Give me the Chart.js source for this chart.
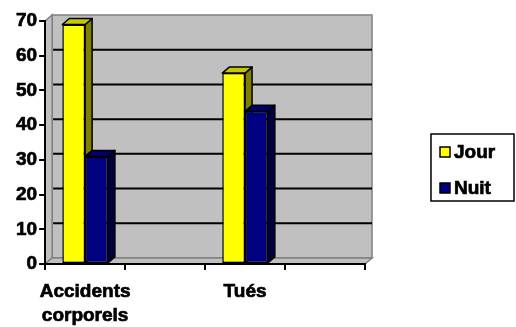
<!DOCTYPE html>
<html lang="fr">
<head>
    <meta charset="UTF-8">
    <title>Accidents jour / nuit</title>
    <script src="https://cdn.jsdelivr.net/npm/chart.js"></script>
    <style>
        body {
            margin: 0;
            background: #ffffff;
        }
        .wrap {
            width: 516px;
            height: 327px;
            position: relative;
        }
    </style>
</head>
<body>
    <div class="wrap">
        <canvas id="chart"></canvas>
    </div>

    <script>
        // data
        const categories = [['Accidents', 'corporels'], '', 'Tués', ''];
        const seriesNames = ['Jour', 'Nuit'];
        const jour = [69, null, 55, null];
        const nuit = [31, null, 44, null];
        const yTicks = [0, 10, 20, 30, 40, 50, 60, 70];

        // styles
        const FONT = '"Liberation Sans", Arial, sans-serif';
        const front = ['#ffff00', '#000080'];
        const side = ['#808000', '#000040'];
        const topFace = ['#c8c800', '#00006a'];
        const DX = 7, DY = 6;

        const threeD = {
            id: 'threeD',
            beforeDraw(chart) {
                const ctx = chart.ctx;
                const { left, right, top, bottom } = chart.chartArea;
                const ys = chart.scales.y;
                ctx.save();
                ctx.lineJoin = 'miter';
                // back wall
                ctx.fillStyle = '#c0c0c0';
                ctx.strokeStyle = '#808080';
                ctx.lineWidth = 1.5;
                ctx.fillRect(left + DX, top - DY, right - left, bottom - top);
                ctx.strokeRect(left + DX, top - DY, right - left, bottom - top);
                // left wall
                ctx.beginPath();
                ctx.moveTo(left, bottom);
                ctx.lineTo(left, top);
                ctx.lineTo(left + DX, top - DY);
                ctx.lineTo(left + DX, bottom - DY);
                ctx.closePath();
                ctx.fill();
                ctx.stroke();
                // floor
                ctx.beginPath();
                ctx.moveTo(left, bottom);
                ctx.lineTo(right, bottom);
                ctx.lineTo(right + DX, bottom - DY);
                ctx.lineTo(left + DX, bottom - DY);
                ctx.closePath();
                ctx.fill();
                ctx.stroke();
                // grid lines on the back wall
                ctx.strokeStyle = '#000000';
                ctx.lineWidth = 2;
                ys.ticks.forEach(t => {
                    if (t.value <= ys.min || t.value >= ys.max) return;
                    const py = ys.getPixelForValue(t.value) - DY;
                    ctx.beginPath();
                    ctx.moveTo(left + DX + 1, py);
                    ctx.lineTo(right + DX, py);
                    ctx.stroke();
                });
                ctx.restore();
            },
            beforeDatasetsDraw(chart) {
                const ctx = chart.ctx;
                ctx.save();
                ctx.strokeStyle = '#000000';
                ctx.lineWidth = 1.5;
                ctx.lineJoin = 'round';
                chart.data.datasets.forEach((ds, di) => {
                    const meta = chart.getDatasetMeta(di);
                    meta.data.forEach((el, i) => {
                        if (ds.data[i] == null) return;
                        const { x, y, base, width } = el.getProps(['x', 'y', 'base', 'width'], true);
                        const l = x - width / 2, r = x + width / 2;
                        // side face
                        ctx.fillStyle = side[di];
                        ctx.beginPath();
                        ctx.moveTo(r, y);
                        ctx.lineTo(r + DX, y - DY);
                        ctx.lineTo(r + DX, base - DY);
                        ctx.lineTo(r, base);
                        ctx.closePath();
                        ctx.fill();
                        ctx.stroke();
                        // top face
                        ctx.fillStyle = topFace[di];
                        ctx.beginPath();
                        ctx.moveTo(l, y);
                        ctx.lineTo(l + DX, y - DY);
                        ctx.lineTo(r + DX, y - DY);
                        ctx.lineTo(r, y);
                        ctx.closePath();
                        ctx.fill();
                        ctx.stroke();
                    });
                });
                ctx.restore();
            },
            afterDraw(chart) {
                // framed legend on the right
                const ctx = chart.ctx;
                ctx.save();
                ctx.strokeStyle = '#000000';
                ctx.lineWidth = 1.5;
                ctx.strokeRect(431, 134, 83, 67);
                ctx.font = 'bold 19px ' + FONT;
                ctx.textBaseline = 'middle';
                ctx.textAlign = 'left';
                chart.data.datasets.forEach((ds, di) => {
                    const cy = 152 + di * 36;
                    ctx.fillStyle = ds.backgroundColor;
                    ctx.lineWidth = 1.5;
                    ctx.fillRect(440, cy - 5, 10, 10);
                    ctx.strokeRect(440, cy - 5, 10, 10);
                    ctx.fillStyle = '#000000';
                    ctx.lineWidth = 0.7;
                    ctx.fillText(ds.label, 454, cy + 1);
                    ctx.strokeText(ds.label, 454, cy + 1);
                });
                ctx.restore();
            }
        };

        new Chart(document.getElementById('chart'), {
            type: 'bar',
            data: {
                labels: categories,
                datasets: [
                    { label: seriesNames[0], data: jour, backgroundColor: front[0] },
                    { label: seriesNames[1], data: nuit, backgroundColor: front[1] }
                ].map(d => Object.assign(d, {
                    borderColor: '#000000',
                    borderWidth: 1.5,
                    borderSkipped: false,
                    categoryPercentage: 0.57,
                    barPercentage: 1
                }))
            },
            options: {
                responsive: true,
                maintainAspectRatio: false,
                animation: false,
                events: [],
                layout: { padding: { left: 14, right: 151, top: 21, bottom: 0 } },
                plugins: {
                    legend: { display: false },
                    tooltip: { enabled: false }
                },
                scales: {
                    x: {
                        afterFit: s => { s.height = 63; },
                        grid: { offset: true, drawOnChartArea: false, color: '#000000', lineWidth: 2, tickLength: 6 },
                        border: { color: '#000000', width: 2 },
                        ticks: {
                            color: '#000000',
                            font: { family: FONT, size: 19, weight: 'bold', lineHeight: 1.25 },
                            textStrokeColor: '#000000',
                            textStrokeWidth: 0.7,
                            padding: 10,
                            maxRotation: 0,
                            autoSkip: false
                        }
                    },
                    y: {
                        min: yTicks[0],
                        max: yTicks[yTicks.length - 1],
                        afterBuildTicks: s => { s.ticks = yTicks.map(v => ({ value: v })); },
                        grid: { drawOnChartArea: false, color: '#000000', lineWidth: 2, tickLength: 6 },
                        border: { color: '#000000', width: 2 },
                        ticks: {
                            color: '#000000',
                            font: { family: FONT, size: 19, weight: 'bold' },
                            textStrokeColor: '#000000',
                            textStrokeWidth: 0.7,
                            padding: 2
                        }
                    }
                }
            },
            plugins: [threeD]
        });
    </script>
</body>
</html>
